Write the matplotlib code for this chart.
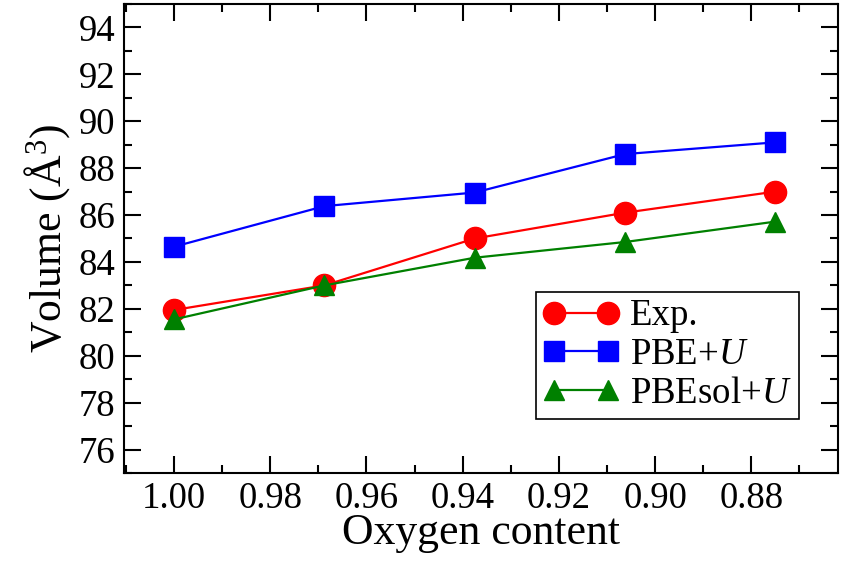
import matplotlib
matplotlib.use("Agg")
import matplotlib.pyplot as plt
from matplotlib.ticker import MultipleLocator, FormatStrFormatter

oxygen = [1.0, 0.96875, 0.9375, 0.90625, 0.875]
exp_vol = [81.95, 83.0, 85.0, 86.1, 87.0]
pbe_vol = [84.65, 86.38, 86.96, 88.6, 89.1]
pbesol_vol = [81.55, 83.0, 84.18, 84.85, 85.72]

plt.rcParams['font.family'] = ['Liberation Serif', 'DejaVu Serif']
plt.rcParams['mathtext.fontset'] = 'custom'
plt.rcParams['mathtext.rm'] = 'Liberation Serif'
plt.rcParams['mathtext.it'] = 'Liberation Serif:italic'

fig = plt.figure(figsize=(8.46, 5.62), dpi=100)
ax = fig.add_axes([0.1466, 0.1584, 0.8439, 0.8345])

ax.plot(oxygen, exp_vol, color='red', marker='o', ms=16, lw=1.6, label='Exp.')
ax.plot(oxygen, pbe_vol, color='blue', marker='s', ms=14, lw=1.6, label='PBE+$U$')
ax.plot(oxygen, pbesol_vol, color='green', marker='^', ms=15, lw=1.6, label='PBEsol+$U$')

ax.set_xlim(1.0104, 0.862)
ax.set_ylim(75, 95)
ax.xaxis.set_major_locator(MultipleLocator(0.02))
ax.xaxis.set_minor_locator(MultipleLocator(0.01))
ax.xaxis.set_major_formatter(FormatStrFormatter('%.2f'))
ax.yaxis.set_minor_locator(MultipleLocator(1))
ax.set_yticks([76, 78, 80, 82, 84, 86, 88, 90, 92, 94])

ax.tick_params(which='both', direction='in', top=True, right=True, labelsize=26.5, width=1.5)
ax.tick_params(which='major', length=12, pad=6)
ax.tick_params(which='minor', length=6)
for s in ax.spines.values():
    s.set_linewidth(1.5)

ax.set_xlabel('Oxygen content', fontsize=31.5, labelpad=-2)
ax.set_ylabel('Volume (Å$^{3}$)', fontsize=31.5, labelpad=5)

leg = ax.legend(loc='lower right', bbox_to_anchor=(0.945, 0.116), fontsize=26.5,
                frameon=True, fancybox=False, edgecolor='black', framealpha=1,
                numpoints=2, handlelength=2.05, handletextpad=0.3, borderpad=0.2,
                labelspacing=0.12, borderaxespad=0)
leg.get_frame().set_linewidth(1.2)

fig.savefig('out.png', dpi=100)
